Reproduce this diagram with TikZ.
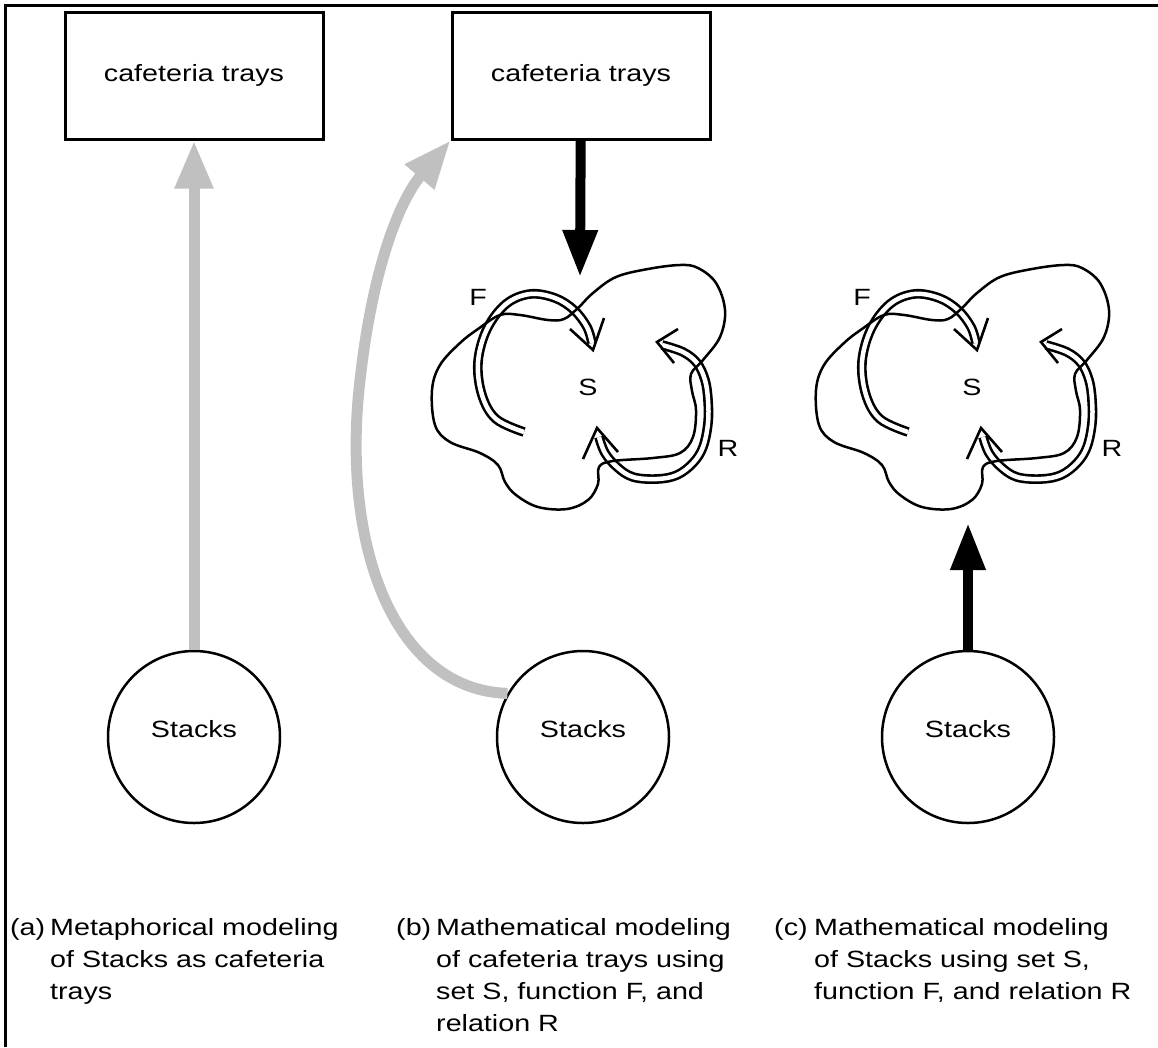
\documentclass[tikz,border=0pt]{standalone}
\usepackage{fontspec}
\setmainfont{Liberation Sans}[FakeStretch=1.22]
\usetikzlibrary{arrows.meta}
\definecolor{traygray}{RGB}{192,192,192}
\tikzset{
  trays/.style={draw, line width=3pt, minimum width=258pt, minimum height=127pt, inner sep=0pt}, % the target boxes
  stacks/.style={circle, draw, line width=2.5pt, minimum size=172pt, inner sep=0pt}, % the source circles
  metaphor/.style={draw=traygray, line width=11pt, -{Triangle[length=48pt, width=36pt]}}, % grey modeling arrows
  model/.style={draw=black, line width=10pt, -{Triangle[length=47pt, width=33pt]}}, % black modeling arrows
  setline/.style={line width=2.5pt, line join=round}, % outline of the set
  relarc/.style={double, line width=2.6pt, double distance=4.5pt}, % function and relation arcs
  barb/.style={line width=2.6pt}, % open arrow heads of the arcs
  setlabel/.style={inner sep=0pt},
  caption/.style={anchor=north west, inner sep=0pt},
}

\begin{document}
\begin{tikzpicture}[x=1pt, y=-1pt, font=\fontsize{23.5}{32}\selectfont]
  \useasboundingbox (0,0) rectangle (1158,1047);
  \draw[line width=3pt] (5,1047) -- (5,5) -- (1158,5);

  \node[trays] (trays-a) at (194,75.5) {cafeteria trays};
  \node[trays] (trays-b) at (581,75.5) {cafeteria trays};

  \node[stacks, label={[yshift=8pt]center:Stacks}] (stacks-a) at (194,737) {};
  \node[stacks, label={[yshift=8pt]center:Stacks}] (stacks-b) at (583,737) {};
  \node[stacks, label={[yshift=8pt]center:Stacks}] (stacks-c) at (968,737) {};

  % the set S with function F and relation R
  \foreach \sx/\id in {588/b, 972/c} {
    \begin{scope}[shift={(\sx,387)}]
      \node[setlabel] (S-\id) at (0,0) {S};
      \node[setlabel] (F-\id) at (-110,-90) {F};
      \node[setlabel] (R-\id) at (140,61) {R};
      \coordinate (top-\id) at (-8,-110);
      \coordinate (bot-\id) at (-4,136);
      % F
      \draw[relarc] plot[smooth, tension=0.6] coordinates {(-64,45) (-92,32) (-106,8) (-110,-25) (-101,-58) (-82,-83) (-58,-93) (-33,-89) (-14,-77) (-1,-60) (4,-44)};
      \draw[barb] (-18,-58) -- (5,-37) -- (16,-69);
      % R
      \draw[relarc] plot[smooth, tension=0.6] coordinates {(74,-42) (95,-35) (109,-24) (117,-7) (120,13) (120,36) (115,60) (105,76) (89,88) (69,92) (45,90) (29,80) (17,66) (11,50)};
      \draw[barb] (90,-58) -- (69,-45) -- (86,-24);
      \draw[barb] (-5,72) -- (9,41) -- (30,65);
      % S
      \draw[setline] plot[smooth cycle, tension=0.6] coordinates {(-156,3) (-153,38) (-138,55) (-108,66) (-90,78) (-83,95) (-72,108) (-50,120) (-21,122) (0,113) (10,97) (11,80) (25,74) (65,71) (92,66) (105,50) (108,23) (104,4) (103,-13) (115,-27) (132,-50) (137,-77) (128,-104) (110,-119) (92,-122) (60,-118) (28,-110) (5,-94) (-10,-79) (-24,-68) (-40,-67) (-68,-72) (-88,-72) (-110,-58) (-128,-44) (-148,-22)};
    \end{scope}
  }

  \draw[metaphor] (stacks-a) -- (trays-a);
  \draw[metaphor] (stacks-b.150) .. controls (400,690) and (345,560) .. (358,400)
    .. controls (370,270) and (400,200) .. (trays-b.south west);
  \draw[model] (trays-b) -- (top-b);
  \draw[model] (stacks-c) -- (stacks-c |- bot-c);

  \node[caption] (cap-a) at (10,913) {\begin{tabular}{@{}p{40pt}@{}l@{}}(a) & Metaphorical modeling\\ & of Stacks as cafeteria\\ & trays\end{tabular}};
  \node[caption] (cap-b) at (396,913) {\begin{tabular}{@{}p{40pt}@{}l@{}}(b) & Mathematical modeling\\ & of cafeteria trays using\\ & set S, function F, and\\ & relation R\end{tabular}};
  \node[caption] (cap-c) at (774,913) {\begin{tabular}{@{}p{40pt}@{}l@{}}(c) & Mathematical modeling\\ & of Stacks using set S,\\ & function F, and relation R\end{tabular}};
\end{tikzpicture}
\end{document}
